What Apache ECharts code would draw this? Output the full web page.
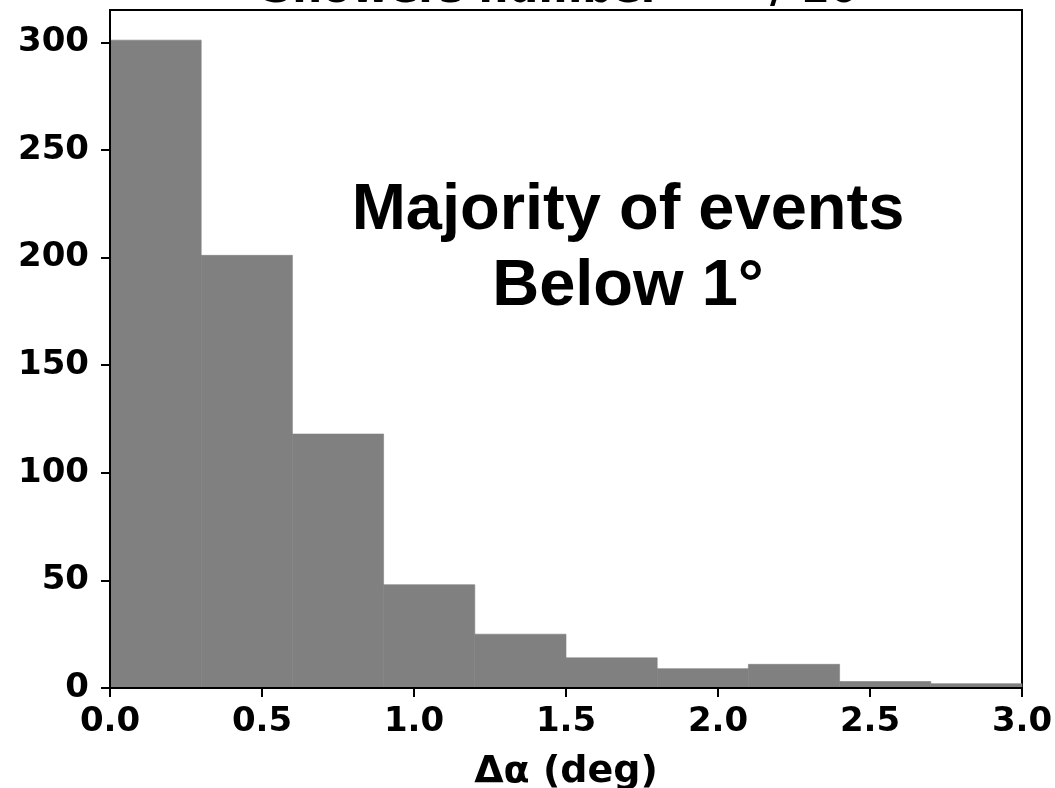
<!DOCTYPE html>
<html>
<head>
<meta charset="utf-8">
<style>
  html, body { margin: 0; padding: 0; background: #fff; }
  #chart { width: 1055px; height: 788px; }
</style>
<script src="https://cdn.jsdelivr.net/npm/echarts@6/dist/echarts.min.js"></script>
</head>
<body>
<div id="chart"></div>
<script>
// Histogram bin edges (deg) and counts
const binEdges = [0.0, 0.3, 0.6, 0.9, 1.2, 1.5, 1.8, 2.1, 2.4, 2.7, 3.0];
const counts = [301, 201, 118, 48, 25, 14, 9, 11, 3, 2];
const xTicks = [0.0, 0.5, 1.0, 1.5, 2.0, 2.5, 3.0];
const yTicks = [0, 50, 100, 150, 200, 250, 300];
const xName = 'Δα (deg)';
const annotLines = ['Majority of events', 'Below 1°'];
const titleParts = ['Showers number', '/ 10'];

const histData = counts.map((c, i) => [binEdges[i], binEdges[i + 1], c]);

const chart = echarts.init(document.getElementById('chart'), null, { renderer: 'canvas' });
const tickFont = { fontFamily: 'DejaVu Sans', fontWeight: 'bold', fontSize: 34, color: '#000' };

chart.setOption({
  animation: false,
  backgroundColor: '#fff',
  grid: { left: 110, right: 33, top: 10, bottom: 100, outerBoundsMode: 'none', containLabel: false,
          show: true, borderColor: '#000', borderWidth: 2, backgroundColor: 'transparent' },
  xAxis: {
    type: 'value', min: 0, max: 3, interval: 0.5, z: 10,
    name: xName, nameLocation: 'middle', nameGap: 65,
    nameTextStyle: { fontFamily: 'DejaVu Sans', fontWeight: 'bold', fontSize: 38, color: '#000' },
    axisLine: { show: true, onZero: false, lineStyle: { color: '#000', width: 2 } },
    axisTick: { show: true, inside: false, length: 9, lineStyle: { color: '#000', width: 2 }, customValues: xTicks },
    axisLabel: Object.assign({ margin: 17, customValues: xTicks, formatter: v => v.toFixed(1) }, tickFont),
    splitLine: { show: false }
  },
  yAxis: {
    type: 'value', min: 0, max: 315, z: 10,
    axisLine: { show: true, lineStyle: { color: '#000', width: 2 } },
    axisTick: { show: true, inside: false, length: 9, lineStyle: { color: '#000', width: 2 }, customValues: yTicks },
    axisLabel: Object.assign({ margin: 21, customValues: yTicks }, tickFont),
    splitLine: { show: false }
  },
  series: [{
    type: 'custom',
    data: histData,
    encode: { x: [0, 1], y: 2 },
    renderItem: function (params, api) {
      const p0 = api.coord([api.value(0), 0]);
      const p1 = api.coord([api.value(1), api.value(2)]);
      return {
        type: 'rect',
        shape: { x: p0[0], y: p1[1], width: p1[0] - p0[0], height: p0[1] - p1[1] },
        style: { fill: '#808080', stroke: '#808080', lineWidth: 0.6 }
      };
    }
  }],
  graphic: [
    { type: 'text', x: 262, y: 12, z: 20,
      style: { text: titleParts[0], font: 'bold 42px "DejaVu Sans"', fill: '#000', align: 'left', verticalAlign: 'bottom' } },
    { type: 'text', x: 770, y: 12, z: 20,
      style: { text: titleParts[1], font: 'bold 42px "DejaVu Sans"', fill: '#000', align: 'left', verticalAlign: 'bottom' } },
    { type: 'text', x: 628, y: 211, z: 20,
      style: { text: annotLines[0], font: 'bold 65px "Liberation Sans"', fill: '#000', align: 'center', verticalAlign: 'middle' } },
    { type: 'text', x: 628, y: 287, z: 20,
      style: { text: annotLines[1], font: 'bold 65px "Liberation Sans"', fill: '#000', align: 'center', verticalAlign: 'middle' } }
  ]
});
</script>
</body>
</html>
